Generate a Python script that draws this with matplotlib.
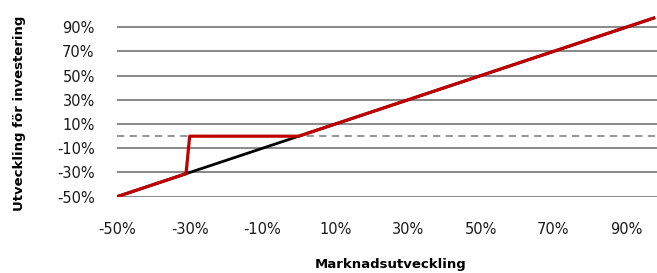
import numpy as np
import matplotlib.pyplot as plt
from matplotlib.ticker import FuncFormatter

# data: market development vs investment development (percent)
market = [-50, 98]
invest = [-50, 98]
prot_x = [-50, -31, -30, 0, 98]
prot_y = [-50, -31, 0, 0, 98]
yticks = [-50, -30, -10, 10, 30, 50, 70, 90]
xticks = [-50, -30, -10, 10, 30, 50, 70, 90]

fig = plt.figure(figsize=(6.57, 2.73), dpi=100)
ax = fig.add_axes([0.178, 0.2795, 0.822, 0.665])

for t in yticks:
    ax.axhline(t, color='#8c8c8c', lw=1.5, zorder=1)
ax.axhline(0, color='#8c8c8c', lw=1.3, ls=(0, (4, 3)), zorder=1)

ax.plot(market, invest, color='black', lw=2, zorder=3, solid_capstyle='butt')
ax.plot(prot_x, prot_y, color='#c00000', lw=2.3, zorder=4, solid_capstyle='butt')

ax.set_xlim(-50, 98.5)
ax.set_ylim(-50, 100)
ax.set_xticks(xticks)
ax.set_yticks(yticks)
fmt = FuncFormatter(lambda v, p: '%d%%' % v)
ax.xaxis.set_major_formatter(fmt)
ax.yaxis.set_major_formatter(fmt)
ax.tick_params(axis='both', length=0, labelsize=10.5, colors='#1a1a1a')
ax.tick_params(axis='y', pad=16)
ax.tick_params(axis='x', pad=18)
for s in ax.spines.values():
    s.set_visible(False)

fig.text(0.594, 0.03, 'Marknadsutveckling', ha='center', va='center',
         fontsize=9.5, fontweight='bold')
fig.text(0.03, 0.584, 'Utveckling för investering', ha='center', va='center',
         rotation=90, fontsize=9.5, fontweight='bold')

fig.savefig('out.png', dpi=100)
